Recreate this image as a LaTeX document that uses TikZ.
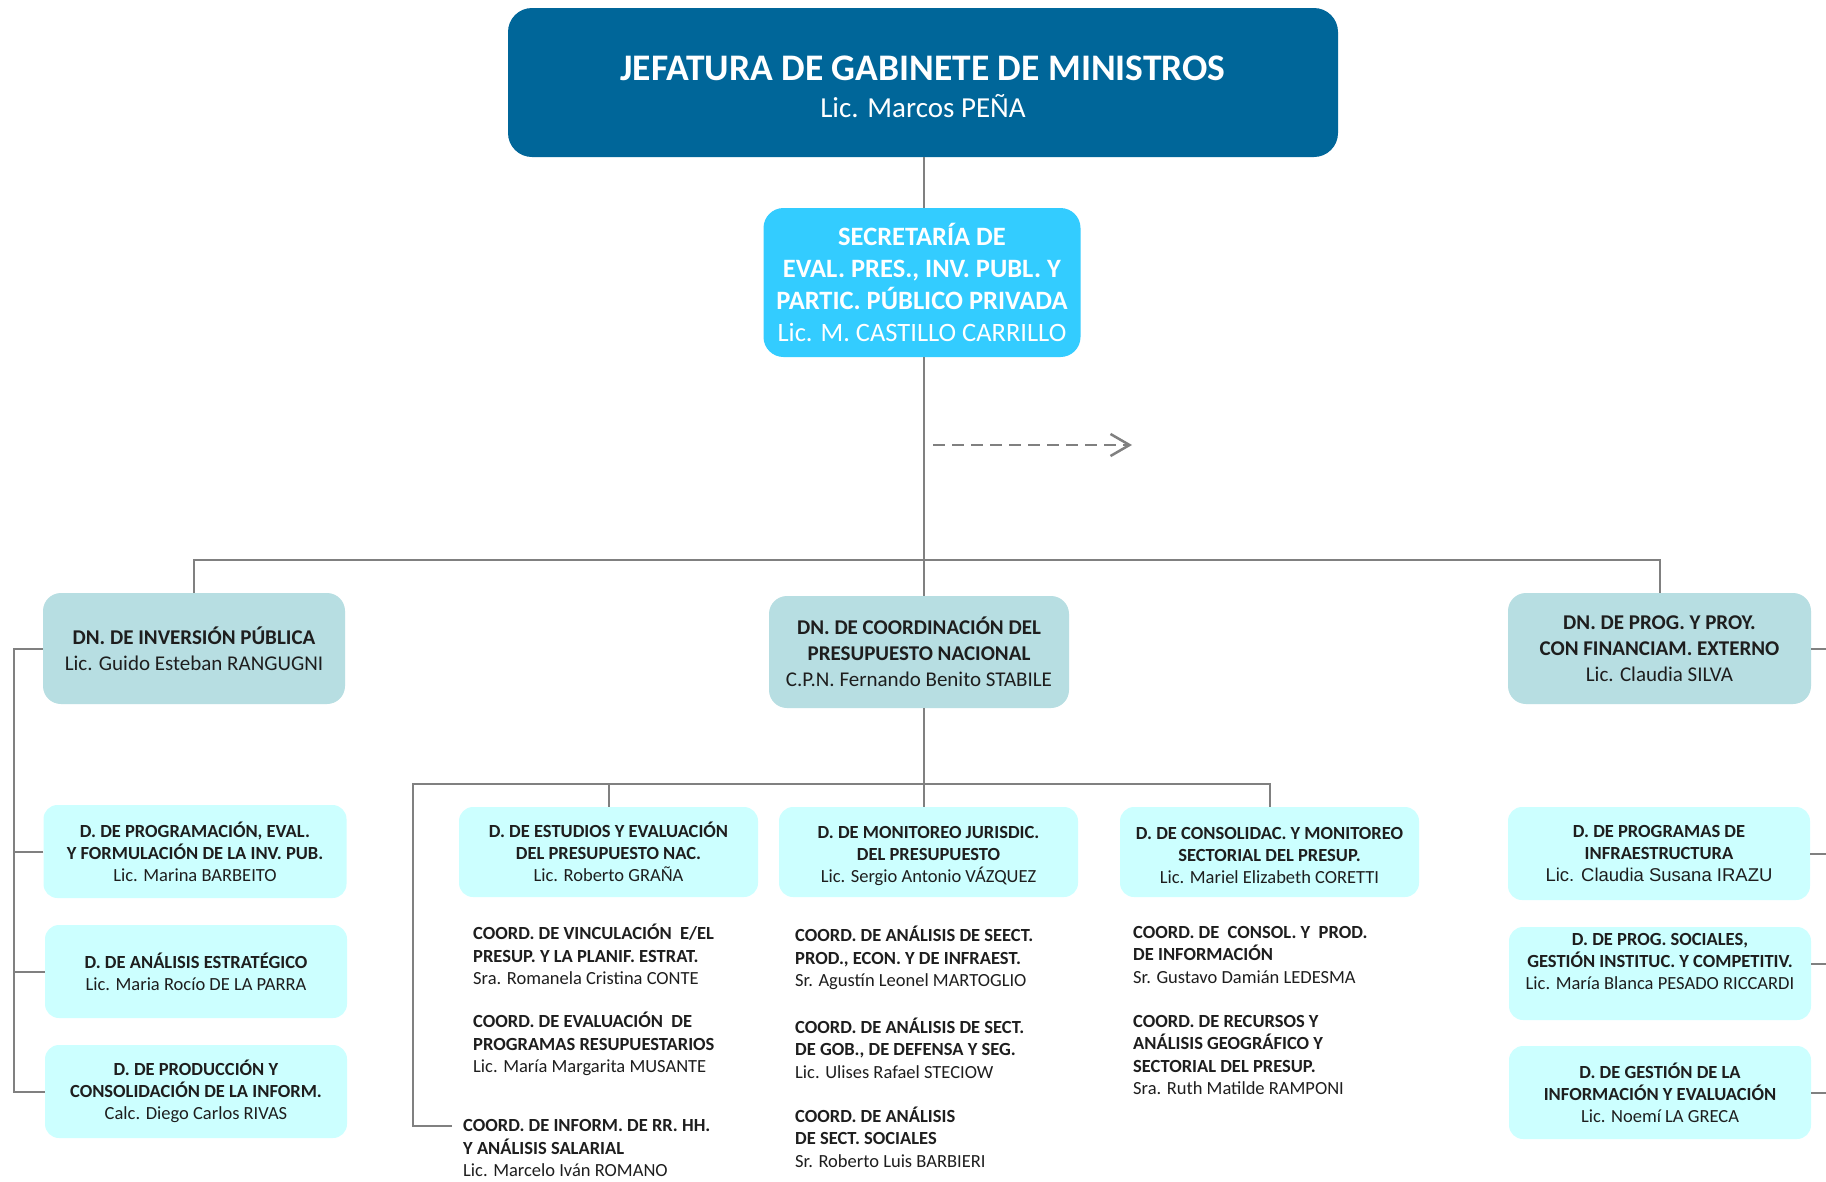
\documentclass[tikz,border=0pt]{standalone}
\usepackage{fontspec}
\setmainfont{Carlito}
\newfontfamily\arialf{Liberation Sans}
\usetikzlibrary{arrows.meta}
\definecolor{topblue}{HTML}{006699}
\definecolor{secblue}{HTML}{33CCFF}
\definecolor{dnfill}{HTML}{B7DEE2}
\definecolor{dfill}{HTML}{CCFFFF}
\definecolor{linegray}{HTML}{808080}
\definecolor{txt}{HTML}{1E1E1E}
\begin{document}
\begin{tikzpicture}[x=1pt,y=-1pt,
 conn/.style={draw=linegray,line width=2pt},
 dasharrow/.style={draw=linegray,line width=2.5pt,dash pattern=on 12pt off 7pt,-{Straight Barb[length=19pt,width=22pt,line width=2.5pt]}},
 topbox/.style={fill=topblue,text=white,rounded corners=24pt,minimum width=830pt,minimum height=149pt,align=center,inner sep=0pt,font=\fontsize{29}{37}\selectfont},
 secbox/.style={fill=secblue,text=white,rounded corners=20pt,minimum width=317pt,minimum height=149pt,align=center,inner sep=0pt,font=\fontsize{26.5}{32}\selectfont},
 dnbox/.style={fill=dnfill,text=txt,rounded corners=18pt,minimum width=302pt,minimum height=111pt,align=center,inner sep=0pt,font=\fontsize{21}{26}\selectfont},
 dbox/.style={fill=dfill,text=txt,rounded corners=14pt,minimum width=302pt,minimum height=93pt,align=center,inner sep=0pt,font=\fontsize{18.5}{22}\selectfont},
 coord/.style={anchor=west,align=left,inner sep=0pt,text=txt,font=\fontsize{18.5}{22.5}\selectfont},
]
\useasboundingbox[fill=white] (0,0) rectangle (1826,1181);

% boxes
\node[topbox] (jgm) at (923,82.5) {\rule{0pt}{33pt}{\fontsize{37.5}{37}\selectfont\bfseries JEFATURA DE GABINETE DE MINISTROS}\\Lic. Marcos PEÑA};
\node[secbox] (sec) at (922,282.5) {\textbf{SECRETARÍA DE}\\\textbf{EVAL. PRES., INV. PUBL. Y}\\\textbf{PARTIC. PÚBLICO PRIVADA}\\Lic. M. CASTILLO CARRILLO};

\node[dnbox] (dninv) at (194,648.5) {\textbf{DN. DE INVERSIÓN PÚBLICA}\\Lic. Guido Esteban RANGUGNI};
\node[dnbox,minimum width=300pt,minimum height=112pt] (dncoord) at (919,652) {\textbf{DN. DE COORDINACIÓN DEL}\\\textbf{PRESUPUESTO NACIONAL}\\C.P.N. Fernando Benito STABILE};
\node[dnbox,minimum width=303pt] (dnprog) at (1659.5,648.5) {\textbf{DN. DE PROG. Y PROY.}\\\textbf{CON FINANCIAM. EXTERNO}\\Lic. Claudia SILVA};

\node[dbox,minimum width=303pt] (dprog) at (195,851.5) {\textbf{D. DE PROGRAMACIÓN, EVAL.}\\\textbf{Y FORMULACIÓN DE LA INV. PUB.}\\Lic. Marina BARBEITO};
\node[dbox] (danal) at (196,971.5) {\textbf{D. DE ANÁLISIS ESTRATÉGICO}\\Lic. Maria Rocío DE LA PARRA};
\node[dbox] (dprod) at (196,1091.5) {\textbf{D. DE PRODUCCIÓN Y}\\\textbf{CONSOLIDACIÓN DE LA INFORM.}\\Calc. Diego Carlos RIVAS};

\node[dbox,minimum width=299pt,minimum height=90pt] (dest) at (608.5,852) {\textbf{D. DE ESTUDIOS Y EVALUACIÓN}\\\textbf{DEL PRESUPUESTO NAC.}\\Lic. Roberto GRAÑA};
\node[dbox,minimum width=299pt,minimum height=90pt] (dmon) at (928.5,852) {\rule{0pt}{21pt}\textbf{D. DE MONITOREO JURISDIC.}\\\textbf{DEL PRESUPUESTO}\\Lic. Sergio Antonio VÁZQUEZ};
\node[dbox,minimum width=299pt,minimum height=90pt] (dcons) at (1269.5,852) {\rule{0pt}{20pt}\textbf{D. DE CONSOLIDAC. Y MONITOREO}\\\textbf{SECTORIAL DEL PRESUP.}\\Lic. Mariel Elizabeth CORETTI};

\node[dbox] (dinfra) at (1659,853.5) {\textbf{D. DE PROGRAMAS DE}\\\textbf{INFRAESTRUCTURA}\\{\arialf Lic. Claudia Susana IRAZU}};
\node[dbox] (dsoc) at (1660,973.5) {\textbf{D. DE PROG. SOCIALES,}\\\textbf{GESTIÓN INSTITUC. Y COMPETITIV.}\\Lic. María Blanca PESADO RICCARDI\\[2pt]\mbox{}};
\node[dbox] (dgest) at (1660,1092.5) {\textbf{D. DE GESTIÓN DE LA}\\\textbf{INFORMACIÓN Y EVALUACIÓN}\\Lic. Noemí LA GRECA};

% coordination texts
\node[coord] (c1) at (473,954.5) {\textbf{COORD. DE VINCULACIÓN~ E/EL}\\\textbf{PRESUP. Y LA PLANIF. ESTRAT.}\\Sra. Romanela Cristina CONTE};
\node[coord] (c2) at (473,1044) {\textbf{COORD. DE EVALUACIÓN~ DE}\\\textbf{PROGRAMAS RESUPUESTARIOS}\\Lic. María Margarita MUSANTE};
\node[coord] (c3) at (463,1148) {\textbf{COORD. DE INFORM. DE RR. HH.}\\\textbf{Y ANÁLISIS SALARIAL}\\Lic. Marcelo Iván ROMANO};
\node[coord] (c4) at (795,958) {\textbf{COORD. DE ANÁLISIS DE SEECT.}\\\textbf{PROD., ECON. Y DE INFRAEST.}\\Sr. Agustín Leonel MARTOGLIO};
\node[coord] (c5) at (795,1048) {\textbf{COORD. DE ANÁLISIS DE SECT.}\\\textbf{DE GOB., DE DEFENSA Y SEG.}\\Lic. Ulises Rafael STECIOW};
\node[coord] (c6) at (795,1137) {\textbf{COORD. DE ANÁLISIS}\\\textbf{DE SECT. SOCIALES}\\Sr. Roberto Luis BARBIERI};
\node[coord] (c7) at (1133,954.5) {\textbf{COORD. DE~ CONSOL. Y~ PROD.}\\\textbf{DE INFORMACIÓN}\\Sr. Gustavo Damián LEDESMA};
\node[coord] (c8) at (1133,1055) {\textbf{COORD. DE RECURSOS Y}\\\textbf{ANÁLISIS GEOGRÁFICO Y}\\\textbf{SECTORIAL DEL PRESUP.}\\Sra. Ruth Matilde RAMPONI};

% helper coordinates
\coordinate (bus) at (924,560);
\coordinate (bus2) at (924,784);
\coordinate (busL) at (413,784);
\coordinate (ltop) at (14,648.5);
\coordinate (rx) at (1826,0);
\coordinate (inf) at ([xshift=-11pt,yshift=22pt]c3.west);
\coordinate (da1) at (933,445);
\coordinate (da2) at (1132,445);
\coordinate (socst) at ([yshift=10pt]dsoc.east);

% connectors
\draw[conn] (bus |- jgm.south) -- (bus |- sec.north);
\draw[conn] (bus |- sec.south) -- (bus |- dncoord.north);
\draw[conn] (dninv.north) |- (bus) -| (dnprog.north);
\draw[conn] (bus |- dncoord.south) -- (bus2 |- dmon.north);
\draw[conn] (dest.north) |- (bus2) -| (dcons.north);
\draw[conn] (inf) -| (busL) -- (bus2);
\draw[dasharrow] (da1) -- (da2);

\draw[conn] (dninv.west) -- (ltop) |- (dprod.west);
\draw[conn] (dprog.west) -- (dprog.west -| ltop);
\draw[conn] (danal.west) -- (danal.west -| ltop);

\draw[conn] (dnprog.east) -- (dnprog.east -| rx);
\draw[conn] (dinfra.east) -- (dinfra.east -| rx);
\draw[conn] (socst) -- (socst -| rx);
\draw[conn] (dgest.east) -- (dgest.east -| rx);
\end{tikzpicture}
\end{document}
